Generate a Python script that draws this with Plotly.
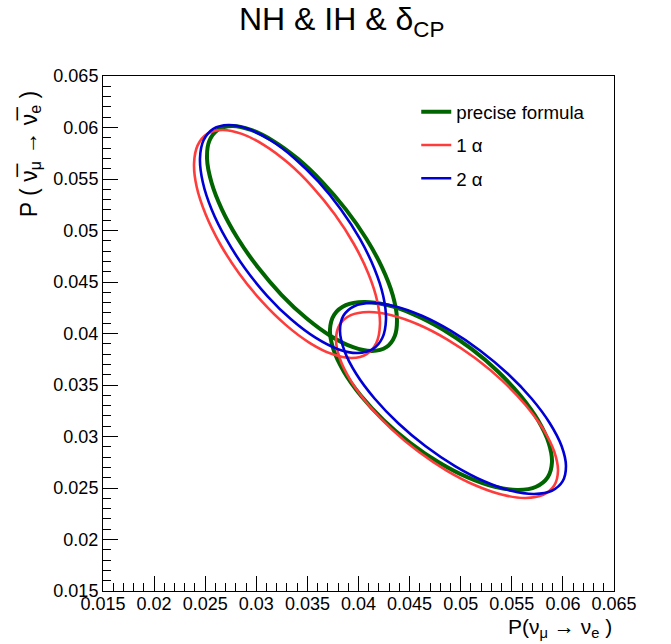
import plotly.graph_objects as go

# ---- data ----
# precise formula (green): NH ellipse and IH ellipse
green_nh_x = [0.04133,0.03947,0.03727,0.03488,0.03246,0.03018,0.02819,0.02663,0.02561,0.02518,0.02540,0.02623,
              0.02762,0.02948,0.03168,0.03407,0.03648,0.03876,0.04075,0.04231,0.04334,0.04376,0.04355,0.04272,0.04133]
green_nh_y = [0.03830,0.03867,0.03976,0.04150,0.04376,0.04640,0.04922,0.05205,0.05468,0.05695,0.05868,0.05977,
              0.06015,0.05977,0.05868,0.05695,0.05468,0.05205,0.04922,0.04640,0.04376,0.04150,0.03976,0.03867,0.03830]
green_ih_x = [0.05562,0.05334,0.05070,0.04788,0.04508,0.04248,0.04026,0.03857,0.03753,0.03721,0.03763,0.03876,
              0.04053,0.04281,0.04544,0.04826,0.05106,0.05367,0.05588,0.05757,0.05861,0.05893,0.05851,0.05738,0.05562]
green_ih_y = [0.02481,0.02512,0.02603,0.02748,0.02937,0.03157,0.03393,0.03629,0.03850,0.04039,0.04184,0.04275,
              0.04306,0.04275,0.04184,0.04039,0.03850,0.03629,0.03393,0.03157,0.02937,0.02748,0.02603,0.02512,0.02481]

# 1 alpha (red)
red_nh_x = [0.03933,0.03742,0.03521,0.03285,0.03050,0.02832,0.02646,0.02505,0.02417,0.02391,0.02426,0.02520,
            0.02668,0.02859,0.03080,0.03316,0.03551,0.03769,0.03955,0.04096,0.04183,0.04210,0.04175,0.04080,0.03933]
red_nh_y = [0.03762,0.03800,0.03910,0.04086,0.04316,0.04583,0.04869,0.05155,0.05422,0.05652,0.05827,0.05938,
            0.05976,0.05938,0.05827,0.05652,0.05422,0.05155,0.04869,0.04583,0.04316,0.04086,0.03910,0.03800,0.03762]
red_ih_x = [0.05634,0.05409,0.05147,0.04866,0.04585,0.04323,0.04098,0.03925,0.03817,0.03780,0.03817,0.03925,
            0.04098,0.04323,0.04585,0.04866,0.05147,0.05409,0.05634,0.05807,0.05915,0.05952,0.05915,0.05807,0.05634]
red_ih_y = [0.02403,0.02434,0.02524,0.02667,0.02854,0.03072,0.03306,0.03540,0.03757,0.03944,0.04088,0.04178,
            0.04209,0.04178,0.04088,0.03944,0.03757,0.03540,0.03306,0.03072,0.02854,0.02667,0.02524,0.02434,0.02403]

# 2 alpha (blue)
blue_nh_x = [0.03991,0.03800,0.03579,0.03343,0.03108,0.02890,0.02705,0.02563,0.02476,0.02449,0.02484,0.02579,
             0.02727,0.02918,0.03139,0.03375,0.03610,0.03828,0.04014,0.04155,0.04242,0.04269,0.04234,0.04139,0.03991]
blue_nh_y = [0.03811,0.03848,0.03959,0.04135,0.04364,0.04631,0.04918,0.05204,0.05471,0.05700,0.05876,0.05987,
             0.06024,0.05987,0.05876,0.05700,0.05471,0.05204,0.04918,0.04631,0.04364,0.04135,0.03959,0.03848,0.03811]
blue_ih_x = [0.05720,0.05494,0.05229,0.04944,0.04657,0.04389,0.04157,0.03977,0.03862,0.03819,0.03852,0.03958,
             0.04129,0.04355,0.04620,0.04905,0.05192,0.05461,0.05693,0.05872,0.05988,0.06030,0.05998,0.05892,0.05720]
blue_ih_y = [0.02442,0.02473,0.02566,0.02713,0.02905,0.03129,0.03369,0.03609,0.03833,0.04025,0.04172,0.04265,
             0.04296,0.04265,0.04172,0.04025,0.03833,0.03609,0.03369,0.03129,0.02905,0.02713,0.02566,0.02473,0.02442]

legend_names = ["precise formula", "1 α", "2 α"]

series = [
    (legend_names[0], "#006400", 4.0, [(green_nh_x, green_nh_y), (green_ih_x, green_ih_y)]),
    (legend_names[1], "#ff3c3c", 2.6, [(red_nh_x, red_nh_y), (red_ih_x, red_ih_y)]),
    (legend_names[2], "#0000d6", 2.6, [(blue_nh_x, blue_nh_y), (blue_ih_x, blue_ih_y)]),
]

FONT = "Liberation Sans, Arial, Helvetica, sans-serif"

fig = go.Figure()
for name, color, width, loops in series:
    for j, (xs, ys) in enumerate(loops):
        fig.add_trace(go.Scatter(
            x=xs, y=ys, mode="lines",
            line=dict(color=color, width=width, shape="spline", smoothing=1.0),
            name=name, legendgroup=name, showlegend=(j == 0),
        ))

axis_common = dict(
    showgrid=False, zeroline=False,
    showline=True, linecolor="black", linewidth=1, mirror=True,
    ticks="inside", ticklen=15, tickwidth=1, tickcolor="black",
    dtick=0.005, tickfont=dict(family=FONT, size=18, color="black"),
    minor=dict(ticks="inside", ticklen=8, dtick=0.001, tickcolor="black", tickwidth=1, showgrid=False),
)

fig.update_xaxes(range=[0.015, 0.065], tick0=0.015, ticklabelstandoff=-4, **axis_common)
fig.update_yaxes(range=[0.015, 0.065], tick0=0.015, **axis_common)

fig.update_layout(
    width=671, height=644,
    margin=dict(l=103, r=57, t=76, b=53),
    paper_bgcolor="white", plot_bgcolor="white",
    font=dict(family=FONT, color="black"),
    showlegend=True,
    legend=dict(
        x=0.613, y=0.967, xanchor="left", yanchor="top",
        bgcolor="rgba(255,255,255,0)", borderwidth=0,
        font=dict(family=FONT, size=18.7, color="black"),
        tracegroupgap=6,
    ),
    annotations=[
        dict(text="NH & IH & δ<sub>CP</sub>", xref="paper", yref="paper",
             x=0.466, y=1.105, xanchor="center", yanchor="middle", showarrow=False,
             font=dict(family=FONT, size=32, color="black")),
        dict(text="P(ν<sub>μ</sub> → ν<sub>e</sub> )", xref="paper", yref="paper",
             x=1.0, y=-0.072, xanchor="right", yanchor="middle", showarrow=False,
             font=dict(family=FONT, size=21, color="black")),
        dict(text="P ( ν\u0305<sub>μ</sub> → ν\u0305<sub>e</sub> )", xref="paper", yref="paper",
             x=-0.143, y=0.848, xanchor="center", yanchor="middle", showarrow=False,
             textangle=-90, font=dict(family=FONT, size=23, color="black")),
    ],
)

fig.write_html("out.html")
